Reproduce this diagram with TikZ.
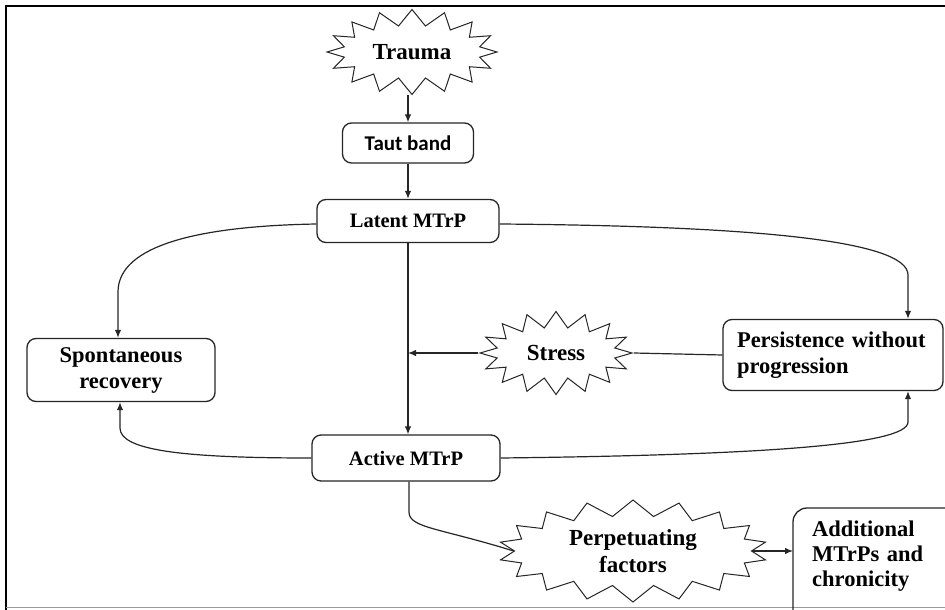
\documentclass[tikz,border=0pt]{standalone}
\usepackage{fontspec}
\setmainfont{Liberation Serif}
\newfontfamily\tautfont{Carlito}
\usetikzlibrary{shapes.symbols,arrows.meta}
\begin{document}
\begin{tikzpicture}[x=1pt,y=-1pt,
  box/.style={draw=black!85, line width=1.3pt, rounded corners=9pt, fill=white,
    font=\bfseries\fontsize{22.5}{26}\selectfont, align=center, inner sep=0pt},
  burst/.style={draw=black!85, line width=1pt, starburst, starburst points=16,
    starburst point height=16pt, random starburst=0, fill=white,
    font=\bfseries\fontsize{23}{27}\selectfont, align=center, inner sep=0pt},
  conn/.style={line width=1.2pt, draw=black!85},
  arr/.style={conn, -{Latex[length=8pt,width=6.5pt]}}]
\useasboundingbox (0,0) rectangle (945,610);
\clip (0,0) rectangle (945,610);
\fill[white] (0,0) rectangle (945,610);
% frame
\draw[line width=2.4pt] (6,612) -- (6,6) -- (950,6);
\draw[black!40, line width=1pt] (6,607) -- (950,607);

% nodes
\node[burst, minimum width=170pt, minimum height=85pt] (trauma) at (412,52) {Trauma};
\node[box, minimum width=131pt, minimum height=40pt, font=\tautfont\bfseries\fontsize{21}{25}\selectfont] (taut) at (408,143) {Taut band};
\node[box, minimum width=182pt, minimum height=43pt, font=\bfseries\fontsize{20.5}{24}\selectfont] (latent) at (408,221) {Latent MTrP};
\node[box, minimum width=188pt, minimum height=63pt] (spont) at (121,370) {Spontaneous\\recovery};
\node[burst, minimum width=152pt, minimum height=83pt] (stress) at (556,353) {Stress};
\node[box, minimum width=220pt, minimum height=71pt, text width=192pt, align=left] (pers) at (833,355) {Persistence without\\progression};
\node[box, minimum width=188pt, minimum height=46pt, font=\bfseries\fontsize{20.5}{24}\selectfont] (active) at (406,458) {Active MTrP};
\node[burst, minimum width=269pt, minimum height=102pt, starburst points=18] (perp) at (633,551) {Perpetuating\\factors};
\node[anchor=north west, text width=140pt, align=left, inner xsep=19pt, inner ysep=13pt,
  font=\bfseries\fontsize{22.5}{25}\selectfont] (add) at (793,508) {Additional\\MTrPs and\\chronicity};
\draw[draw=black!85, line width=1.3pt, rounded corners=14pt] (add.north west) rectangle (975,640);

% connectors
\draw[arr] (taut.north |- trauma.south) -- (taut.north);
\draw[arr] (taut.south) -- (latent.north);
\draw[arr] (latent.south) -- (latent.south |- active.north);
\draw[arr] (latent.west |- 0,224) .. controls (200,226) and (118,245) .. (118,292) -- (spont.north -| 118,0);
\draw[arr] (latent.east |- 0,224) .. controls (750,226) and (908,240) .. (908,275) -- (pers.north -| 908,0);
\coordinate (mid) at (latent.south |- stress.west);
\draw[arr] (stress.west) -- (mid);
\draw[conn] (pers.west) -- (stress.east);
\draw[arr] (active.west) .. controls (180,458) and (120,450) .. (120,428) -- (spont.south -| 120,0);
\draw[arr] (active.east) .. controls (760,455) and (908,445) .. (908,422) -- (pers.south -| 908,0);
\draw[conn] (active.south -| 409,0) -- (409,512) .. controls (409,528) and (440,528) .. (perp.west);
\draw[arr] (perp.east) -- (perp.east -| add.west);
\end{tikzpicture}
\end{document}
